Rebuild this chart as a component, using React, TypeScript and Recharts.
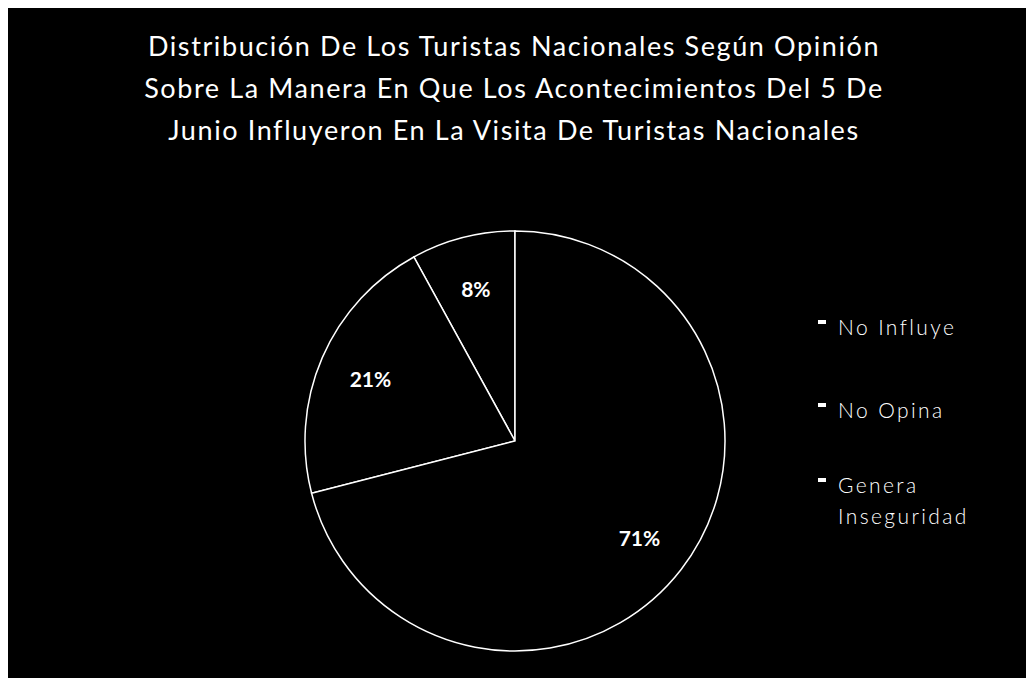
import { PieChart, Pie, Cell, Legend } from "recharts";

const categories = ["No Influye", "No Opina", "Genera Inseguridad"];
const shares = [8, 21, 71];
const titleLines = [
  "Distribución De Los Turistas Nacionales Según Opinión",
  "Sobre La Manera En Que Los Acontecimientos Del 5 De",
  "Junio Influyeron En La Visita De Turistas Nacionales",
];

const data = categories.map((name, i) => ({ name, value: shares[i] }));

const RADIAN = Math.PI / 180;

const renderLabel = (props: any) => {
  const { cx, cy, midAngle, outerRadius, value } = props;
  const r = outerRadius * 0.75;
  const x = cx + r * Math.cos(-midAngle * RADIAN);
  const y = cy + r * Math.sin(-midAngle * RADIAN);
  return (
    <text
      x={x}
      y={y}
      fill="#ffffff"
      textAnchor="middle"
      dominantBaseline="central"
      fontFamily="Lato"
      fontWeight={700}
      fontSize={21}
    >
      {value}%
    </text>
  );
};

const CustomLegend = () => {
  return (
    <ul style={{ listStyleType: "none", padding: 0, margin: 0 }}>
      {categories.map((name, index) => (
        <li
          key={`item-${index}`}
          style={{
            display: "flex",
            alignItems: "flex-start",
            height: index === 0 ? 83 : index === 1 ? 75 : 70,
          }}
        >
          <span
            style={{
              display: "inline-block",
              width: 8,
              height: 4,
              marginTop: 9,
              marginRight: 12,
              backgroundColor: "#ffffff",
            }}
          ></span>
          <span
            style={{
              color: "#ffffff",
              fontFamily: "Lato",
              fontWeight: 300,
              fontSize: 21,
              letterSpacing: 2.4,
              lineHeight: "31px",
              width: 150,
            }}
          >
            {name}
          </span>
        </li>
      ))}
    </ul>
  );
};

export default function App() {
  return (
    <div
      style={{
        position: "fixed",
        top: 0,
        left: 0,
        width: 1026,
        height: 678,
        background: "#ffffff",
        overflow: "hidden",
      }}
    >
      <div
        style={{
          position: "absolute",
          top: 8,
          left: 8,
          width: 1018,
          height: 670,
          background: "#000000",
        }}
      >
        <div
          style={{
            position: "absolute",
            top: 17,
            left: 0,
            width: 1012,
            textAlign: "center",
            color: "#ffffff",
            fontFamily: "Lato",
            fontSize: 27,
            letterSpacing: 1.6,
            lineHeight: "42px",
          }}
        >
          {titleLines.map((line, i) => (
            <div key={i}>{line}</div>
          ))}
        </div>
        <PieChart width={1018} height={670} style={{ position: "absolute", top: 0, left: 0 }}>
          <Pie
            data={data}
            dataKey="value"
            nameKey="name"
            cx={502}
            cy={428}
            outerRadius={210}
            startAngle={90}
            endAngle={450}
            stroke="#ffffff"
            strokeWidth={1.5}
            label={renderLabel}
            labelLine={false}
            isAnimationActive={false}
          >
            {data.map((entry, index) => (
              <Cell key={`cell-${index}`} fill="#000000" />
            ))}
          </Pie>
          <Legend
            content={<CustomLegend />}
            wrapperStyle={{ position: "absolute", left: 810, top: 303, width: 200 }}
          />
        </PieChart>
      </div>
    </div>
  );
}
